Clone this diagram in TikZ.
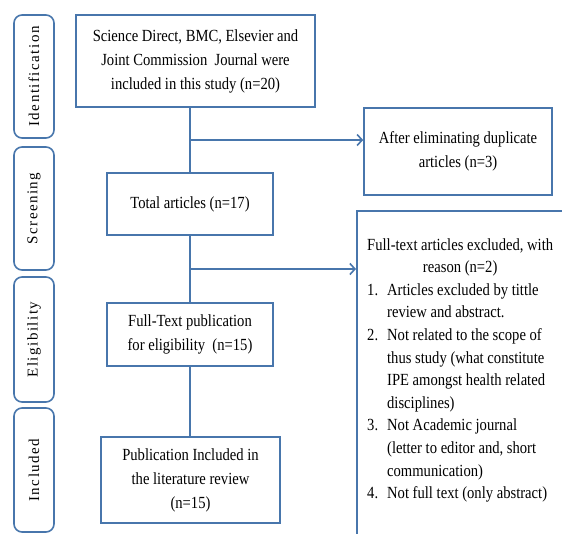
\documentclass[tikz,border=0pt]{standalone}
\usepackage{fontspec}
\setmainfont[FakeStretch=0.86]{Liberation Serif}
\newfontfamily\tabfont[LetterSpace=10]{Liberation Serif}
\usetikzlibrary{arrows.meta}
\definecolor{lineblue}{RGB}{72,118,172}
\tikzset{
  box/.style={draw=lineblue, line width=1.6pt, fill=white, inner sep=0pt, align=center,
    font=\fontsize{17}{24}\selectfont},
  tab/.style={draw=lineblue, line width=1.6pt, rounded corners=8pt, inner sep=0pt,
    minimum height=40pt},
  tabtext/.style={rotate=90, font=\tabfont\fontsize{15}{18}\selectfont},
  conn/.style={draw=lineblue, line width=1.6pt},
  arr/.style={conn, -{Straight Barb[length=5pt,width=11pt,line width=1.6pt]}}
}
\begin{document}
\begin{tikzpicture}[x=1pt,y=-1pt]
\useasboundingbox (0,0) rectangle (562,533);
\clip (0,0) rectangle (562,533);
% phase tabs
\node[tab, minimum width=40pt, minimum height=123pt] (tid) at (34,76.5) {};
\node[tabtext] (tidt) at (tid.center) {Identification};
\node[tab, minimum width=40pt, minimum height=123pt] (tsc) at (34,208.5) {};
\node[tabtext] (tsct) at (tsc.center) {Screening};
\node[tab, minimum width=40pt, minimum height=125pt] (tel) at (34,339.5) {};
\node[tabtext] (telt) at (tel.center) {Eligibility};
\node[tab, minimum width=40pt, minimum height=124pt] (tin) at (34,470) {};
\node[tabtext] (tint) at (tin.center) {Included};
% main boxes
\node[box, minimum width=239pt, minimum height=92pt] (b1) at (195.5,61)
  {Science Direct, BMC, Elsevier and\\Joint Commission\ \ Journal were\\included in this study (n=20)};
\node[box, minimum width=166pt, minimum height=62pt] (b2) at (190,204) {Total articles (n=17)};
\node[box, minimum width=166pt, minimum height=63pt] (b3) at (190,334.5)
  {Full-Text publication\\for eligibility\ \ (n=15)};
\node[box, minimum width=179pt, minimum height=86pt] (b4) at (190.5,480)
  {Publication Included in\\the literature review\\(n=15)};
\node[box, minimum width=188pt, minimum height=87pt] (dup) at (458,151.5)
  {After eliminating duplicate\\articles (n=3)};
\node[box, anchor=north west, minimum width=230pt, minimum height=340pt] (exc) at (356,210) {};
\node[anchor=north west, inner sep=0pt, font=\fontsize{17}{22.6}\selectfont] (exct) at (367,234)
  {\begin{tabular}{@{}l@{\hspace{9pt}}l@{}}
   \multicolumn{2}{@{}c@{}}{Full-text articles excluded, with}\\
   \multicolumn{2}{@{}c@{}}{reason (n=2)}\\
   1. & Articles excluded by tittle\\
      & review and abstract.\\
   2. & Not related to the scope of\\
      & thus study (what constitute\\
      & IPE amongst health related\\
      & disciplines)\\
   3. & Not Academic journal\\
      & (letter to editor and, short\\
      & communication)\\
   4. & Not full text (only abstract)
   \end{tabular}};
% connectors
\coordinate (s1) at (190,140);
\coordinate (s2) at (190,269);
\draw[conn] (b2.north |- b1.south) -- (b2.north);
\draw[arr] (s1) -- (s1 -| dup.west);
\draw[conn] (b2.south) -- (b3.north);
\draw[arr] (s2) -- (s2 -| exc.west);
\draw[conn] (b3.south) -- (b3.south |- b4.north);
\end{tikzpicture}
\end{document}
